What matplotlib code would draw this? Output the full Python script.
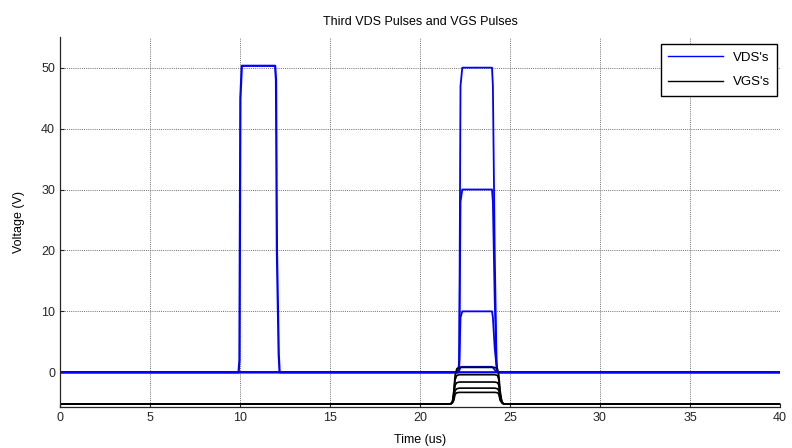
import matplotlib
matplotlib.use("Agg")
import matplotlib.pyplot as plt

plt.rcParams['font.family'] = ['Liberation Sans', 'DejaVu Sans']

# ---- data (time in us, voltage in V) ----
vds_time_1 = [0, 9.92, 9.97, 10.02, 10.1, 11.95, 12.0, 12.05, 12.15, 12.2, 40]
vds_vals_1 = [0, 0, 2, 45, 50.3, 50.3, 48, 20, 3, 0, 0]

vds_time_2 = [0, 22.12, 22.18, 22.25, 22.35, 24.0, 24.05, 24.15, 24.25, 24.3, 40]
vds_vals_50 = [0, 0, 2, 47, 50, 50, 47, 20, 2, 0, 0]
vds_vals_30 = [0, 0, 1.5, 28, 30, 30, 28, 12, 1.5, 0, 0]
vds_vals_10 = [0, 0, 1, 9, 10, 10, 9, 4, 1, 0, 0]
vds_vals_00 = [0, 0, 0.3, 0.8, 0.9, 0.9, 0.8, 0.4, 0.1, 0, 0]

vgs_time = [0, 21.7, 21.8, 21.88, 21.95, 22.05, 22.2, 24.15, 24.3, 24.38, 24.45, 24.55, 24.65, 40]
vgs_vals_a = [-5.2, -5.2, -4.9, -3.0, -0.5, 0.6, 0.8, 0.8, 0.6, -0.5, -3.0, -4.9, -5.2, -5.2]
vgs_vals_b = [-5.2, -5.2, -4.9, -3.5, -1.2, -0.5, -0.4, -0.4, -0.5, -1.2, -3.5, -4.9, -5.2, -5.2]
vgs_vals_c = [-5.2, -5.2, -4.9, -3.9, -2.1, -1.7, -1.6, -1.6, -1.7, -2.1, -3.9, -4.9, -5.2, -5.2]
vgs_vals_d = [-5.2, -5.2, -5.0, -4.3, -3.0, -2.7, -2.6, -2.6, -2.7, -3.0, -4.3, -5.0, -5.2, -5.2]
vgs_vals_e = [-5.2, -5.2, -5.0, -4.6, -3.6, -3.35, -3.3, -3.3, -3.35, -3.6, -4.6, -5.0, -5.2, -5.2]

x_ticks = [0, 5, 10, 15, 20, 25, 30, 35, 40]
y_ticks = [0, 10, 20, 30, 40, 50]

fig = plt.figure(figsize=(7.92, 4.48), dpi=100)
ax = fig.add_axes([0.0758, 0.0915, 0.909, 0.8255])

blue = '#0000ff'
ax.plot(vds_time_1, vds_vals_1, color=blue, lw=1.6, label="VDS's")
for v in (vds_vals_50, vds_vals_30, vds_vals_10, vds_vals_00):
    ax.plot(vds_time_2, v, color=blue, lw=1.3)

first = True
for v in (vgs_vals_a, vgs_vals_b, vgs_vals_c, vgs_vals_d, vgs_vals_e):
    ax.plot(vgs_time, v, color='black', lw=1.2, label="VGS's" if first else None)
    first = False

ax.set_xlim(0, 40)
ax.set_ylim(-5.7, 55)
ax.set_xticks(x_ticks)
ax.set_yticks(y_ticks)
ax.tick_params(direction='in', length=3, labelsize=9, colors='#262626', width=0.8)
ax.grid(True, color='#707070', linestyle=(0, (1, 1.2)), linewidth=0.7)
for s in ('top', 'right'):
    ax.spines[s].set_visible(False)
for s in ('left', 'bottom'):
    ax.spines[s].set_color('#262626')
    ax.spines[s].set_linewidth(0.9)

ax.set_title('Third VDS Pulses and VGS Pulses', fontsize=9, pad=9)
ax.set_xlabel('Time (us)', fontsize=9, labelpad=7)
ax.set_ylabel('Voltage (V)', fontsize=9, labelpad=12)

leg = ax.legend(loc='upper right', bbox_to_anchor=(0.9958, 0.981), borderaxespad=0,
                fontsize=9.5, fancybox=False, framealpha=1, edgecolor='black',
                handlelength=4.2, handletextpad=0.7, borderpad=0.55, labelspacing=0.95)
leg.get_frame().set_linewidth(1.0)
for line in leg.get_lines():
    line.set_linewidth(1.0)

fig.savefig('out.png', dpi=100)
